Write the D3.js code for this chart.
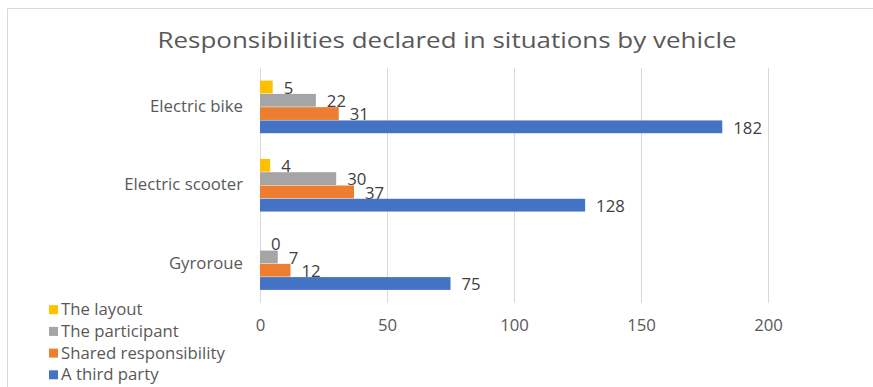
<!DOCTYPE html>
<html><head><meta charset="utf-8">
<script src="https://cdn.jsdelivr.net/npm/d3@7"></script>
<style>
body{margin:0;background:#fff;}
text{font-family:"Open Sans",sans-serif;}
</style></head>
<body>
<svg id="c" width="873" height="387"></svg>
<script>
const categories = ["Electric bike", "Electric scooter", "Gyroroue"];
const seriesNames = ["The layout", "The participant", "Shared responsibility", "A third party"];
const layoutVals = [5, 4, 0];
const participantVals = [22, 30, 7];
const sharedVals = [31, 37, 12];
const thirdPartyVals = [182, 128, 75];
const xTicks = [0, 50, 100, 150, 200];
const colors = ["#FFC000", "#A5A5A5", "#ED7D31", "#4472C4"];
const title = "Responsibilities declared in situations by vehicle";

const seriesVals = [layoutVals, participantVals, sharedVals, thirdPartyVals];
const svg = d3.select("#c");
const FS = 15.5, STRETCH = 1.08;

// chart border
svg.append("path").attr("d","M7.5,387 V8.5 H873").attr("fill","none").attr("stroke","#d9d9d9").attr("stroke-width",1);

svg.append("text").attr("x",447).attr("y",47.5).attr("text-anchor","middle")
  .attr("font-size",22).attr("fill","#595959")
  .attr("textLength",579).attr("lengthAdjust","spacingAndGlyphs").text(title);

const x = d3.scaleLinear().domain([0,200]).range([260,768]);
const y0 = d3.scaleBand().domain(categories).range([68,303]).padding(0);
const y1 = d3.scaleBand().domain(seriesNames).range([0,y0.bandwidth()]).paddingInner(0).paddingOuter(0.95);

// gridlines
svg.append("g").selectAll("line").data(xTicks).join("line")
  .attr("x1",d=>x(d)+0.5).attr("x2",d=>x(d)+0.5).attr("y1",68).attr("y2",303)
  .attr("stroke","#d9d9d9").attr("stroke-width",1);

const small = [];
// x axis labels
const xAxis = d3.axisBottom(x).tickValues(xTicks).tickSize(0).tickPadding(0);
const gx = svg.append("g").attr("transform","translate(0,330.5)").call(xAxis);
gx.select(".domain").remove();
gx.selectAll("text").attr("font-size",FS).attr("fill","#595959").attr("font-family","Open Sans").attr("dy","0")
  .each(function(){small.push(this);});

// y axis labels
const yAxis = d3.axisLeft(y0).tickSize(0).tickPadding(0);
const gy = svg.append("g").attr("transform","translate(243,0)").call(yAxis);
gy.select(".domain").remove();
gy.selectAll("text").attr("font-size",FS).attr("fill","#595959").attr("font-family","Open Sans")
  .each(function(){small.push(this);});

// bars
const data = [];
categories.forEach((c,ci)=>seriesNames.forEach((s,si)=>data.push({c,s,si,v:seriesVals[si][ci]})));
const g = svg.append("g");
g.selectAll("rect").data(data).join("rect")
  .attr("x",x(0)).attr("y",d=>y0(d.c)+y1(d.s)).attr("height",y1.bandwidth()-0.5)
  .attr("width",d=>x(d.v)-x(0)).attr("fill",d=>colors[d.si]);

g.selectAll("text").data(data).join("text")
  .attr("x",d=>x(d.v)+11).attr("y",d=>y0(d.c)+y1(d.s)+y1.bandwidth()/2+1)
  .attr("dy","0.35em").attr("font-size",FS).attr("fill","#404040").text(d=>d.v)
  .each(function(){small.push(this);});

// legend
const lg = svg.append("g");
seriesNames.forEach((s,i)=>{
  const yy = 309.7 + i*21.7;
  lg.append("rect").attr("x",49).attr("y",yy-4.5).attr("width",9).attr("height",9).attr("fill",colors[i]);
  lg.append("text").attr("x",61).attr("y",yy).attr("dy","0.35em").attr("font-size",FS).attr("fill","#595959").text(s)
    .each(function(){small.push(this);});
});

small.forEach(el=>{
  const w = el.getComputedTextLength();
  d3.select(el).attr("textLength",w*STRETCH).attr("lengthAdjust","spacingAndGlyphs");
});
</script>
</body></html>
